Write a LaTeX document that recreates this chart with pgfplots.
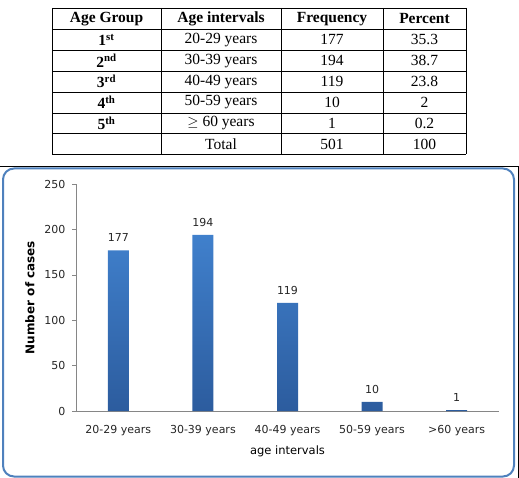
\documentclass[border=0pt]{standalone}
\usepackage{pgfplots}
\pgfplotsset{compat=1.18}
\usepackage{fontspec}
\setmainfont{Liberation Serif}
\newfontfamily\chartfont{DejaVu Sans}
\definecolor{frameblue}{RGB}{79,129,189}
\definecolor{bartop}{RGB}{64,128,204}
\definecolor{barbot}{RGB}{44,92,158}
\definecolor{axisgray}{RGB}{134,134,134}
\begin{document}
\begin{tikzpicture}[x=1pt,y=1pt]
\useasboundingbox (0,0) rectangle (519,-478);
% ---- summary table ----
\foreach \yy in {8,29,50,71,92,113,133.5,154}
  \draw[line width=0.9pt] (52,-\yy) -- (466,-\yy);
\foreach \xx in {52,161,281,383,466}
  \draw[line width=0.9pt] (\xx,-8) -- (\xx,-154);
\tikzset{cell/.style={anchor=center,inner sep=0pt,font=\fontsize{15.5}{16}\selectfont}}
\node[cell,font=\fontsize{15.5}{16}\selectfont\bfseries] at (106.5,-19) {Age Group};
\node[cell,font=\fontsize{15.5}{16}\selectfont\bfseries] at (221,-19) {Age intervals};
\node[cell,font=\fontsize{15.5}{16}\selectfont\bfseries] at (332,-19) {Frequency};
\node[cell,font=\fontsize{15.5}{16}\selectfont\bfseries] at (424.5,-19) {Percent};
\foreach \r/\g/\s/\a/\f/\p in {1/1/st/20-29 years/177/35.3,2/2/nd/30-39 years/194/38.7,3/3/rd/40-49 years/119/23.8,4/4/th/50-59 years/10/2,5/5/th/{$\geq$ 60 years}/1/0.2}{
  \pgfmathsetmacro{\yc}{-19-20.86*\r}
  \node[cell,font=\fontsize{15.5}{16}\selectfont\bfseries] at (106.5,\yc) {\g\textsuperscript{\s}};
  \node[cell] at (221,\yc) {\a};
  \node[cell] at (332,\yc) {\f};
  \node[cell] at (424.5,\yc) {\p};
}
\node[cell] at (221,-144) {Total};
\node[cell] at (332,-144) {501};
\node[cell] at (424.5,-144) {100};
% ---- chart frame ----
\draw[line width=0.8pt] (0,-166) -- (518,-166) -- (518,-478);
\draw[frameblue,line width=2pt,rounded corners=11pt] (3,-168.5) rectangle (514,-476.5);
% ---- bar chart ----
\begin{axis}[
  at={(76pt,-411pt)}, anchor=south west,
  scale only axis, width=423pt, height=227pt,
  xmin=-0.5, xmax=4.5, ymin=0, ymax=250,
  axis x line=bottom, axis y line=left,
  axis line style={-, axisgray, line width=0.6pt},
  xtick={0,1,2,3,4},
  xticklabels={20-29 years,30-39 years,40-49 years,50-59 years,>60 years},
  xtick style={draw=none},
  ytick={0,50,100,150,200,250},
  ytick style={axisgray, line width=0.6pt},
  tick align=outside, major tick length=4pt,
  /pgf/number format/assume math mode=true,
  ticklabel style={font=\chartfont\fontsize{11}{13}\selectfont, text=black!85},
  xticklabel style={yshift=-7pt},
  yticklabel style={xshift=-3pt},
  xlabel={age intervals},
  ylabel={\textbf{Number of cases}},
  label style={font=\chartfont\fontsize{11.5}{13}\selectfont},
  xlabel style={at={(axis description cs:0.5,0)}, anchor=center, yshift=-40pt},
  ylabel style={at={(axis description cs:0,0.5)}, anchor=center, rotate=0, yshift=46pt, font=\chartfont\fontsize{12}{13}\selectfont},
  clip=false,
]
\addplot[ybar, bar width=21pt, draw=none, top color=bartop, bottom color=barbot,
  nodes near coords, nodes near coords style={font=\chartfont\fontsize{11}{13}\selectfont, text=black!85, yshift=5pt}]
  coordinates {(0,177) (1,194) (2,119) (3,10) (4,1)};
\end{axis}
\end{tikzpicture}
\end{document}
